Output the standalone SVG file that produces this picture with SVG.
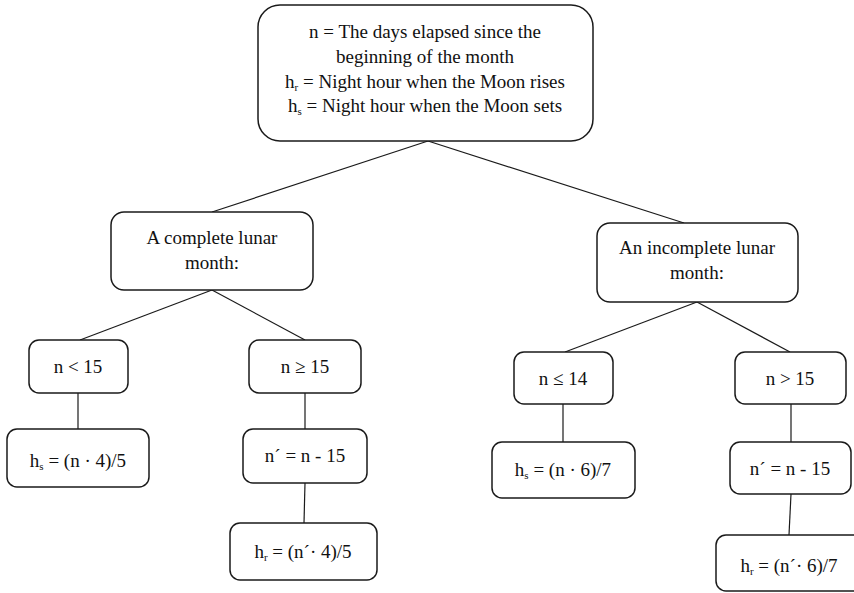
<svg xmlns="http://www.w3.org/2000/svg" width="854" height="593" viewBox="0 0 854 593">
<style>
.box{fill:#fff;stroke:#1a1a1a;stroke-width:1.5}
.t{font-family:"Liberation Serif","Times New Roman",serif;font-size:19px;fill:#111;text-anchor:middle}
.sub{font-size:11px}
.c line{stroke:#1a1a1a;stroke-width:1.2}
</style>
<rect width="854" height="593" fill="#fff"/>
<g class="c" id="connectors">
<line x1="428" y1="141" x2="212" y2="212"/>
<line x1="428" y1="141" x2="684" y2="223"/>
<line x1="212" y1="290" x2="80" y2="340"/>
<line x1="212" y1="290" x2="305" y2="340"/>
<line x1="78" y1="393" x2="78" y2="429"/>
<line x1="305" y1="393" x2="305" y2="429"/>
<line x1="305" y1="483" x2="304" y2="523"/>
<line x1="697" y1="302" x2="565" y2="352"/>
<line x1="697" y1="302" x2="790" y2="352"/>
<line x1="563" y1="404" x2="563" y2="442"/>
<line x1="791" y1="404" x2="791" y2="442"/>
<line x1="791" y1="494" x2="789" y2="535"/>
</g>
<g id="root">
<rect class="box" x="258" y="5" width="335" height="136" rx="22"/>
<text class="t" x="425" y="38">n = The days elapsed since the</text>
<text class="t" x="425" y="63">beginning of the month</text>
<text class="t" x="425" y="88">h<tspan class="sub" dy="3">r</tspan><tspan dy="-3"> = Night hour when the Moon rises</tspan></text>
<text class="t" x="425" y="112">h<tspan class="sub" dy="3">s</tspan><tspan dy="-3"> = Night hour when the Moon sets</tspan></text>
</g>
<g id="complete">
<rect class="box" x="111" y="212" width="202" height="78" rx="13"/>
<text class="t" x="212" y="244">A complete lunar</text>
<text class="t" x="212" y="269">month:</text>
</g>
<g id="incomplete">
<rect class="box" x="597" y="223" width="201" height="79" rx="13"/>
<text class="t" x="697" y="254">An incomplete lunar</text>
<text class="t" x="697" y="279">month:</text>
</g>
<g id="nlt15">
<rect class="box" x="29" y="340" width="99" height="53" rx="10"/>
<text class="t" x="78" y="373">n &lt; 15</text>
</g>
<g id="nge15">
<rect class="box" x="249" y="340" width="112" height="53" rx="10"/>
<text class="t" x="305" y="373">n ≥ 15</text>
</g>
<g id="hs45">
<rect class="box" x="7" y="429" width="142" height="58" rx="10"/>
<text class="t" x="78" y="467">h<tspan class="sub" dy="3">s</tspan><tspan dy="-3"> = (n · 4)/5</tspan></text>
</g>
<g id="nprime1">
<rect class="box" x="243" y="429" width="124" height="54" rx="10"/>
<text class="t" x="305" y="462">n´ = n - 15</text>
</g>
<g id="hr45">
<rect class="box" x="230" y="523" width="147" height="57" rx="10"/>
<text class="t" x="303" y="558">h<tspan class="sub" dy="3">r</tspan><tspan dy="-3"> = (n´· 4)/5</tspan></text>
</g>
<g id="nle14">
<rect class="box" x="514" y="352" width="99" height="52" rx="10"/>
<text class="t" x="563" y="385">n ≤ 14</text>
</g>
<g id="ngt15">
<rect class="box" x="735" y="352" width="111" height="52" rx="10"/>
<text class="t" x="790" y="385">n &gt; 15</text>
</g>
<g id="hs67">
<rect class="box" x="492" y="442" width="143" height="56" rx="10"/>
<text class="t" x="563" y="476">h<tspan class="sub" dy="3">s</tspan><tspan dy="-3"> = (n · 6)/7</tspan></text>
</g>
<g id="nprime2">
<rect class="box" x="730" y="442" width="121" height="52" rx="10"/>
<text class="t" x="790" y="475">n´ = n - 15</text>
</g>
<g id="hr67">
<rect class="box" x="716" y="535" width="150" height="56" rx="10"/>
<text class="t" x="789" y="572">h<tspan class="sub" dy="3">r</tspan><tspan dy="-3"> = (n´· 6)/7</tspan></text>
</g>
</svg>
